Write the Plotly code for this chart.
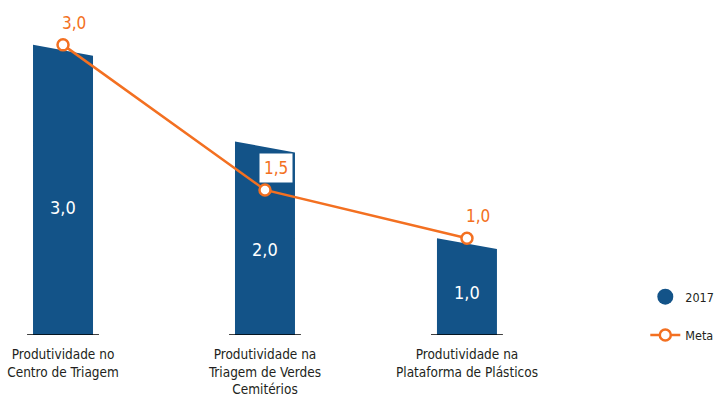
import plotly.graph_objects as go

# ---- data ----
categories = [
    "Produtividade no<br>Centro de Triagem",
    "Produtividade na<br>Triagem de Verdes<br>Cemitérios",
    "Produtividade na<br>Plataforma de Plásticos",
]
values_2017 = [3.0, 2.0, 1.0]
values_meta = [3.0, 1.5, 1.0]
labels_2017 = ["3,0", "2,0", "1,0"]
labels_meta = ["3,0", "1,5", "1,0"]
series_names = ["2017", "Meta"]

# ---- styles ----
NAVY = "#135388"
ORANGE = "#F37021"
TEXT = "#231F20"
FONT = "DejaVu Sans Condensed, Liberation Sans Narrow, sans-serif"
BAR_W = 0.297
SLANT = 0.112
BASE_HALF = 0.178

pos = list(range(len(categories)))

# bar polygons (slanted tops) built from the values
xs, ys = [], []
for i, v in zip(pos, values_2017):
    xs += [i - BAR_W / 2, i - BAR_W / 2, i + BAR_W / 2, i + BAR_W / 2, None]
    ys += [0, v, v - SLANT, 0, None]

fig = go.Figure()
fig.add_trace(go.Scatter(
    x=xs, y=ys, mode="lines", fill="toself", fillcolor=NAVY,
    line=dict(width=0, color=NAVY), showlegend=False, hoverinfo="skip",
))
fig.add_trace(go.Scatter(
    x=[None], y=[None], mode="markers", name=series_names[0],
    marker=dict(size=23, color=NAVY), legendgroup="a",
))
fig.add_trace(go.Scatter(
    x=pos, y=values_meta, mode="lines+markers", name=series_names[1],
    line=dict(color=ORANGE, width=2.5),
    marker=dict(symbol="circle", size=11, color="white",
                line=dict(color=ORANGE, width=2.5)),
    legendgroup="b", cliponaxis=False,
))

annotations = []
for i, v, t in zip(pos, values_2017, labels_2017):
    annotations.append(dict(
        x=i, y=v * 0.44, xref="x", yref="y", text=t, showarrow=False,
        font=dict(family=FONT, size=18, color="white"),
    ))
for i, v, t in zip(pos, values_meta, labels_meta):
    annotations.append(dict(
        x=i, y=v, xref="x", yref="y", text=t, showarrow=False,
        xshift=11, yshift=22,
        font=dict(family=FONT, size=17, color=ORANGE),
        bgcolor="white", borderpad=4,
    ))

shapes = []
for i in pos:
    shapes.append(dict(
        type="line", xref="x", yref="y",
        x0=i - BASE_HALF, x1=i + BASE_HALF, y0=0, y1=0,
        line=dict(color="black", width=1.5),
    ))

fig.update_layout(
    width=717, height=403,
    margin=dict(l=0, r=0, t=0, b=68, autoexpand=False),
    paper_bgcolor="white", plot_bgcolor="white",
    font=dict(family=FONT, color=TEXT),
    annotations=annotations, shapes=shapes,
    legend=dict(
        x=0.900, y=0.158, xanchor="left", yanchor="top",
        font=dict(family=FONT, size=12.5, color=TEXT),
        traceorder="grouped", tracegroupgap=19,
        bgcolor="rgba(0,0,0,0)",
    ),
    xaxis=dict(
        range=[-0.312, 3.238], showgrid=False, zeroline=False, showline=False,
        tickvals=pos, ticktext=categories,
        tickfont=dict(family=FONT, size=13.5, color=TEXT),
        ticks="outside", ticklen=7, tickcolor="rgba(0,0,0,0)",
        automargin=False, ticklabeloverflow="allow",
        fixedrange=True,
    ),
    yaxis=dict(range=[0, 3.464], visible=False, fixedrange=True,
               automargin=False),
    showlegend=True,
)

fig.write_html(
    "out.html",
    config={"displayModeBar": False},
    post_script="document.body.style.margin='0px';document.body.style.overflow='hidden';",
)
